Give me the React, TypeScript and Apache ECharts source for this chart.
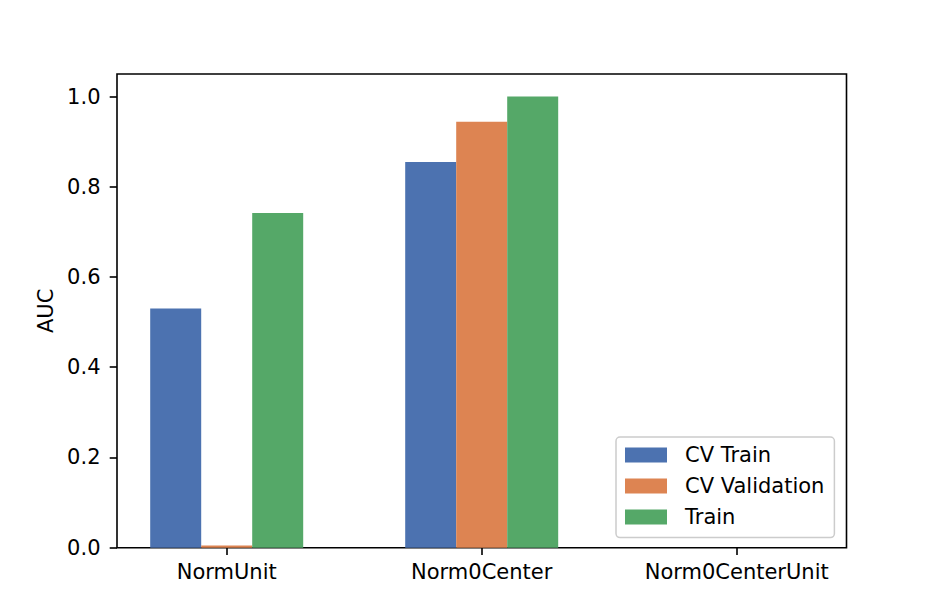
import React, { useEffect, useRef } from "react";
import * as echarts from "echarts";

const categories = ["NormUnit", "Norm0Center", "Norm0CenterUnit"];
const cvTrain = [0.53, 0.855, null];
const cvValidation = [0.005, 0.944, null];
const train = [0.742, 1.0, null];
const yTicks = [0, 0.2, 0.4, 0.6, 0.8, 1.0];
const seriesNames = ["CV Train", "CV Validation", "Train"];
const colors = ["#4c72b0", "#dd8452", "#55a868"];

export default function App() {
  const ref = useRef<HTMLDivElement>(null);
  useEffect(() => {
    document.body.style.margin = "0";
    const chart = echarts.init(ref.current!, null, { renderer: "svg" });
    const font = "DejaVu Sans";
    const fs = 21;
    const gridTop = 74;
    const gridHeight = 473.7;
    const values = [cvTrain, cvValidation, train];
    chart.setOption({
      animation: false,
      textStyle: { fontFamily: font },
      grid: [
        {
          left: 117,
          top: gridTop,
          width: 729.5,
          height: gridHeight,
          show: true,
          borderColor: "#000",
          borderWidth: 1.6,
          backgroundColor: "transparent",
        },
        {
          left: 99.2,
          top: gridTop,
          width: 765,
          height: gridHeight,
        },
      ],
      xAxis: [
        { type: "value", gridIndex: 0, show: false, min: 0, max: 1 },
        {
          type: "category",
          gridIndex: 1,
          data: categories,
          axisLine: { show: false },
          axisTick: {
            show: true,
            alignWithLabel: true,
            length: 7.3,
            lineStyle: { color: "#000", width: 1.6 },
          },
          axisLabel: {
            color: "#000",
            fontSize: fs,
            fontFamily: font,
            margin: 14,
          },
          splitLine: { show: false },
        },
      ],
      yAxis: [
        {
          type: "value",
          gridIndex: 0,
          min: 0,
          max: 1.05,
          name: "AUC",
          nameLocation: "middle",
          nameGap: 58.5,
          nameTextStyle: { color: "#000", fontSize: fs, fontFamily: font },
          axisLine: { show: false },
          axisTick: {
            show: true,
            customValues: yTicks,
            length: 7.3,
            lineStyle: { color: "#000", width: 1.6 },
          },
          axisLabel: {
            customValues: yTicks,
            color: "#000",
            fontSize: fs,
            fontFamily: font,
            margin: 16.5,
            formatter: (v: number) => v.toFixed(1),
          },
          splitLine: { show: false },
        },
        {
          type: "value",
          gridIndex: 1,
          min: 0,
          max: 1.05,
          show: false,
          splitLine: { show: false },
        },
      ],
      legend: {
        orient: "vertical",
        left: 616,
        top: 437,
        padding: [7.6, 10, 10, 9],
        itemWidth: 42,
        itemHeight: 15,
        itemGap: 10,
        icon: "rect",
        backgroundColor: "rgba(255,255,255,0.8)",
        borderColor: "#cccccc",
        borderWidth: 1.5,
        borderRadius: 4,
        data: seriesNames,
        formatter: "{t|{name}}",
        textStyle: {
          color: "#000",
          fontSize: fs,
          fontFamily: font,
          rich: {
            t: {
              color: "#000",
              fontSize: fs,
              fontFamily: font,
              lineHeight: 21,
              padding: [0, 0, 0, 13],
            },
          },
        },
      },
      series: seriesNames.map((name, i) => ({
        name,
        type: "bar",
        xAxisIndex: 1,
        yAxisIndex: 1,
        data: values[i],
        barWidth: 51,
        barGap: "0%",
        itemStyle: { color: colors[i] },
      })),
    });
    return () => chart.dispose();
  }, []);
  return (
    <div
      ref={ref}
      style={{ position: "absolute", left: 0, top: 0, width: 940, height: 616 }}
    />
  );
}
